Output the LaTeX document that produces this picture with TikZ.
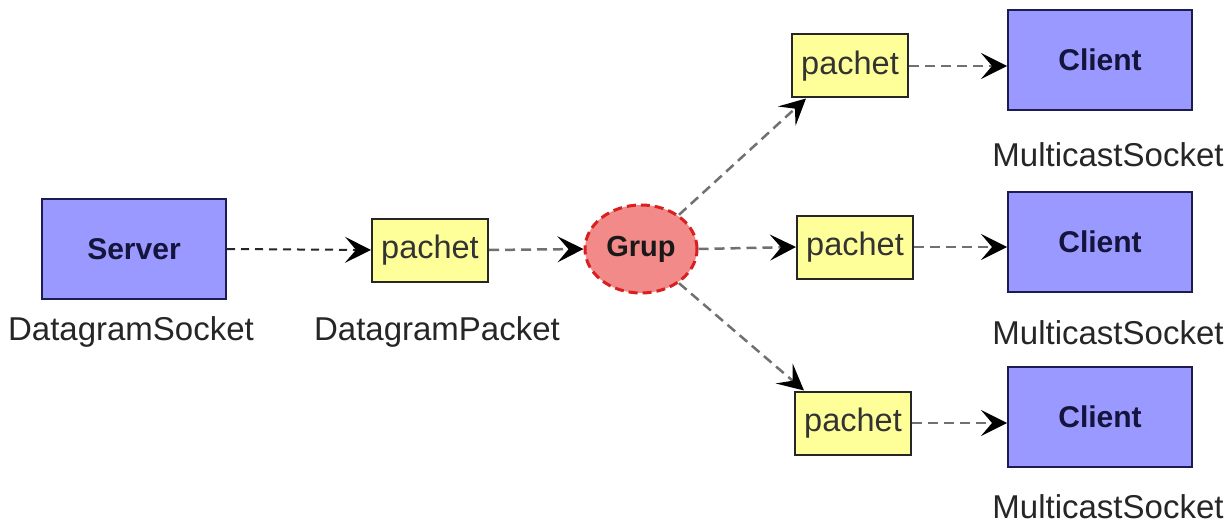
\documentclass[tikz,border=0pt]{standalone}
\usepackage{fontspec}
\setmainfont{Liberation Sans}
\usetikzlibrary{arrows.meta,shapes.geometric}
\definecolor{hostfill}{HTML}{9999FF}
\definecolor{hostline}{HTML}{1C1C50}
\definecolor{hosttext}{HTML}{14143C}
\definecolor{pktfill}{HTML}{FFFF99}
\definecolor{grpfill}{HTML}{F28A8A}
\definecolor{grpline}{HTML}{D82020}
\definecolor{flow}{HTML}{707070}
\tikzset{
  host/.style={draw=hostline, line width=2pt, fill=hostfill, minimum width=184pt,
    minimum height=100pt, inner sep=0pt, text=hosttext,
    font=\fontsize{30}{34}\selectfont\bfseries},
  pkt/.style={draw=black!85, line width=2pt, fill=pktfill, minimum width=116pt,
    minimum height=63pt, inner sep=0pt, text=black!80,
    font=\fontsize{32.5}{36}\selectfont},
  grp/.style={ellipse, draw=grpline, line width=3pt, dash pattern=on 9pt off 5pt,
    fill=grpfill, minimum width=112pt, minimum height=88pt, inner sep=0pt,
    text=black!90, font=\fontsize{29}{34}\selectfont\bfseries},
  caption/.style={text=black!85, inner sep=0pt, font=\fontsize{33}{36}\selectfont},
  head/.style={-{Stealth[length=26pt,width=26pt,inset=11pt,black]}},
  link/.style={head, draw=flow, line width=2.5pt, dash pattern=on 10pt off 6pt},
  firstlink/.style={head, draw=black!85, line width=2pt, dash pattern=on 8pt off 6pt}
}
\begin{document}
\begin{tikzpicture}[x=1pt,y=-1pt]
  \useasboundingbox (0,0) rectangle (1225,524);
  \fill[white] (0,0) rectangle (1225,524);

  % sender side
  \node[host] (server) at (134,249) {Server};
  \node[caption] (serverlbl) at (131,332) {DatagramSocket};
  \node[pkt] (p0) at (430,250) {pachet};
  \node[caption] (p0lbl) at (437,332) {DatagramPacket};
  \node[grp] (grup) at (641,249) {Grup};

  % receivers
  \node[pkt] (p1) at (850,66) {pachet};
  \node[pkt] (p2) at (855,247) {pachet};
  \node[pkt] (p3) at (853,423) {pachet};
  \node[host] (c1) at (1100,60) {Client};
  \node[host] (c2) at (1100,242) {Client};
  \node[host] (c3) at (1100,417) {Client};
  \node[caption] (c1lbl) at (1108,155) {MulticastSocket};
  \node[caption] (c2lbl) at (1108,333) {MulticastSocket};
  \node[caption] (c3lbl) at (1108,507) {MulticastSocket};

  % flow of the packets
  \draw[firstlink] (server.east) -- (p0.west);
  \draw[link] (p0.east) -- (grup.west);
  \draw[link] (grup.42) -- ([xshift=15pt]p1.south west);
  \draw[link] (grup.east) -- (p2.west);
  \draw[link] (grup.-42) -- ([xshift=10pt]p3.north west);
  \draw[link] (p1.east) -- (p1.east -| c1.west);
  \draw[link] (p2.east) -- (p2.east -| c2.west);
  \draw[link] (p3.east) -- (p3.east -| c3.west);
\end{tikzpicture}
\end{document}
